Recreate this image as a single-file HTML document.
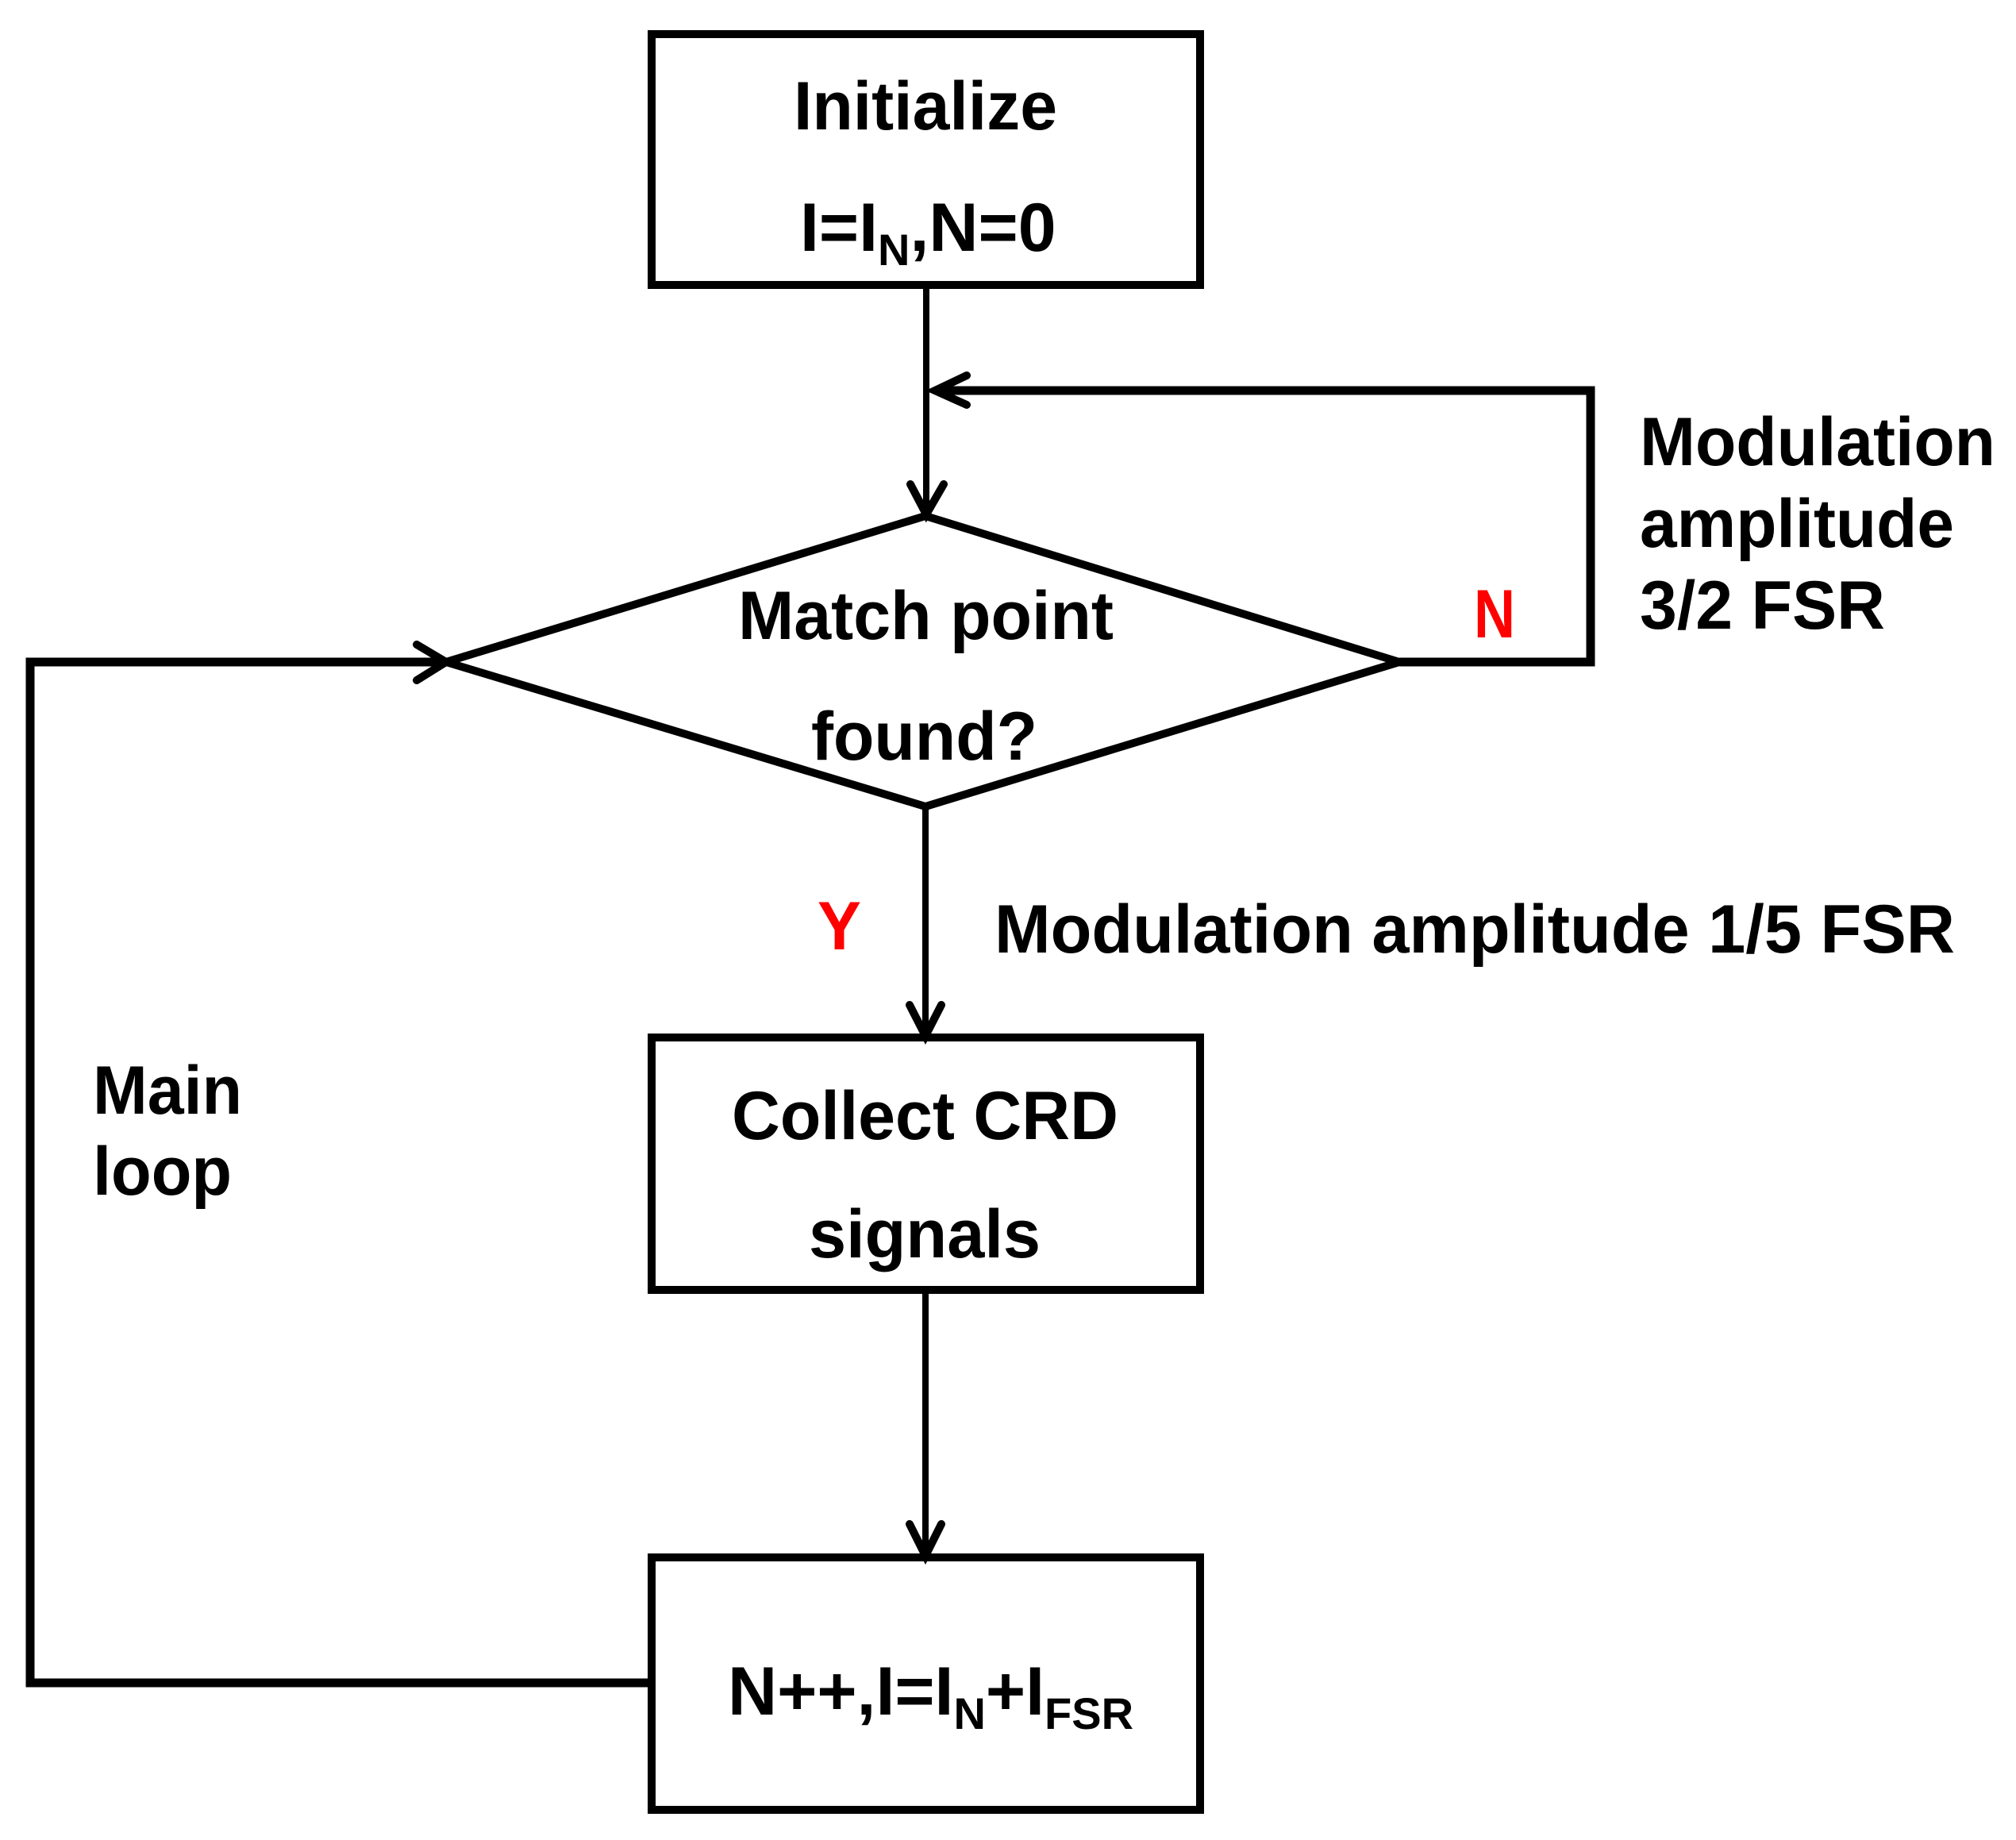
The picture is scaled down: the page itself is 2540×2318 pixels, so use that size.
<!DOCTYPE html>
<html><head><meta charset="utf-8"><style>html,body{margin:0;padding:0;background:#fff}svg{display:block}</style></head>
<body>
<svg width="2540" height="2318" viewBox="0 0 2540 2318" xmlns="http://www.w3.org/2000/svg">
<g fill="none" stroke="#000" stroke-linecap="round" stroke-linejoin="miter">
  <rect x="821" y="43" width="691" height="316" stroke-width="10"/>
  <rect x="821" y="1307" width="691" height="318" stroke-width="10"/>
  <rect x="821" y="1962" width="691" height="318" stroke-width="10"/>
  <polygon points="1166,650 1763,834 1166,1016 562,834" stroke-width="10"/>
  <line x1="1167" y1="359" x2="1167" y2="648" stroke-width="8"/>
  <polyline points="1147,610 1167,648 1189,610" stroke-width="10"/>
  <polyline points="1763,834 2004,834 2004,492 1180,492" stroke-width="11" stroke-linecap="butt"/>
  <polyline points="1218,473 1178,492 1218,510" stroke-width="10"/>
  <line x1="1166" y1="1016" x2="1166" y2="1305" stroke-width="8"/>
  <polyline points="1146,1266 1166,1305 1186,1266" stroke-width="10"/>
  <line x1="1166" y1="1625" x2="1166" y2="1960" stroke-width="8"/>
  <polyline points="1146,1920 1166,1960 1186,1920" stroke-width="10"/>
  <polyline points="816,2120 38,2120 38,834 560,834" stroke-width="11" stroke-linecap="butt"/>
  <polyline points="525,812 562,834 525,857" stroke-width="10"/>
</g>
<g font-family="'Liberation Sans', Arial, sans-serif" font-weight="bold" font-size="86" fill="#000">
  <text x="1000" y="163" textLength="332" lengthAdjust="spacingAndGlyphs">Initialize</text>
  <text x="1008" y="316">I=I<tspan font-size="56" dy="18">N</tspan><tspan dy="-18">,N=0</tspan></text>
  <text x="930" y="805" textLength="473" lengthAdjust="spacingAndGlyphs">Match point</text>
  <text x="1022" y="957" textLength="285" lengthAdjust="spacingAndGlyphs">found?</text>
  <text x="1857" y="803" fill="#f00" textLength="52" lengthAdjust="spacingAndGlyphs">N</text>
  <text x="2066" y="586" textLength="448" lengthAdjust="spacingAndGlyphs">Modulation</text>
  <text x="2066" y="689" textLength="396" lengthAdjust="spacingAndGlyphs">amplitude</text>
  <text x="2066" y="792" textLength="309" lengthAdjust="spacingAndGlyphs">3/2 FSR</text>
  <text x="1030" y="1196" fill="#f00" textLength="55" lengthAdjust="spacingAndGlyphs">Y</text>
  <text x="1253" y="1200" textLength="1210" lengthAdjust="spacingAndGlyphs">Modulation amplitude 1/5 FSR</text>
  <text x="922" y="1435" textLength="487" lengthAdjust="spacingAndGlyphs">Collect CRD</text>
  <text x="1019" y="1584" textLength="292" lengthAdjust="spacingAndGlyphs">signals</text>
  <text x="117" y="1403" textLength="188" lengthAdjust="spacingAndGlyphs">Main</text>
  <text x="117" y="1505" textLength="175" lengthAdjust="spacingAndGlyphs">loop</text>
  <text x="917" y="2160">N++,I=I<tspan font-size="56" dy="18">N</tspan><tspan dy="-18">+I</tspan><tspan font-size="56" dy="18">FSR</tspan></text>
</g>
</svg>
</body></html>
